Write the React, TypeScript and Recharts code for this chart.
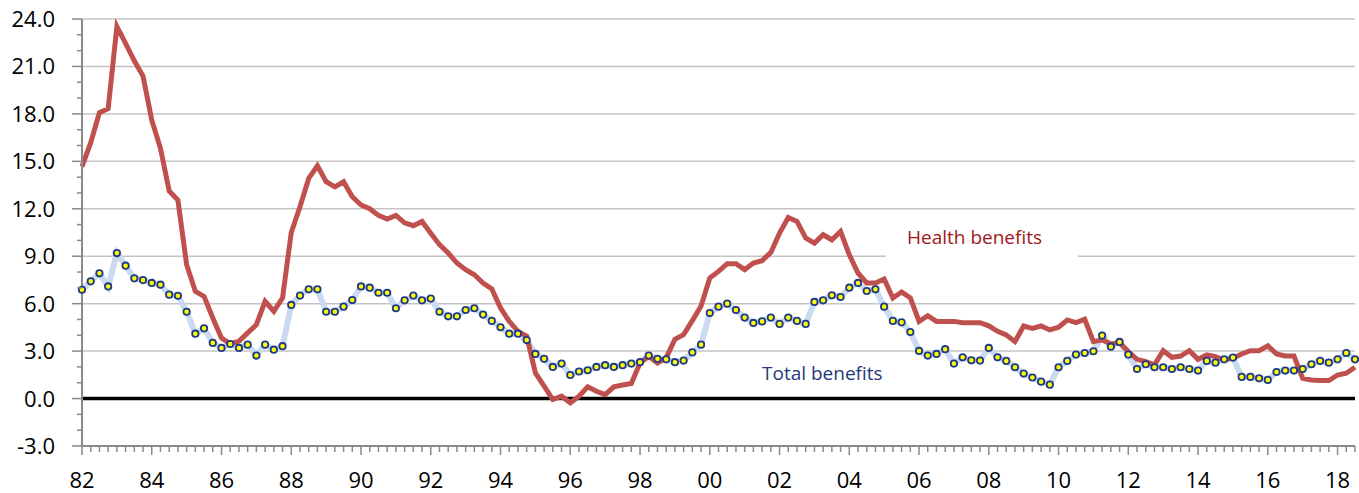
import { LineChart, Line, XAxis, YAxis, CartesianGrid, ReferenceLine } from 'recharts'

// quarterly, 1982 Q1 .. 2018 Q3
const startYear = 1982

const totalBenefits = [
  6.88, 7.41, 7.92, 7.09, 9.2, 8.4, 7.6, 7.49, 7.31, 7.2,
  6.57, 6.5, 5.49, 4.1, 4.44, 3.52, 3.2, 3.45, 3.2, 3.41,
  2.72, 3.41, 3.09, 3.31, 5.92, 6.51, 6.91, 6.91, 5.49, 5.49,
  5.81, 6.23, 7.09, 7.01, 6.69, 6.69, 5.71, 6.21, 6.51, 6.21,
  6.32, 5.49, 5.2, 5.2, 5.6, 5.71, 5.31, 4.91, 4.51, 4.1,
  4.1, 3.7, 2.82, 2.51, 2.0, 2.21, 1.49, 1.71, 1.79, 2.0,
  2.11, 2.0, 2.11, 2.21, 2.3, 2.72, 2.51, 2.48, 2.3, 2.4,
  2.92, 3.41, 5.41, 5.81, 6.0, 5.6, 5.12, 4.78, 4.88, 5.12,
  4.72, 5.12, 4.91, 4.72, 6.11, 6.21, 6.53, 6.42, 7.01, 7.31,
  6.8, 6.91, 5.81, 4.91, 4.82, 4.21, 3.01, 2.72, 2.82, 3.12,
  2.21, 2.61, 2.42, 2.4, 3.2, 2.61, 2.38, 1.98, 1.58, 1.33,
  1.07, 0.88, 1.98, 2.38, 2.78, 2.88, 2.99, 3.98, 3.28, 3.58,
  2.78, 1.87, 2.17, 1.98, 1.98, 1.87, 1.98, 1.87, 1.77, 2.38,
  2.27, 2.48, 2.59, 1.37, 1.37, 1.28, 1.18, 1.68, 1.77, 1.77,
  1.87, 2.17, 2.38, 2.27, 2.48, 2.88, 2.48,
]

const healthBenefits = [
  14.66, 16.18, 18.08, 18.33, 23.52, 22.46, 21.36, 20.39, 17.61, 15.82,
  13.12, 12.55, 8.46, 6.78, 6.46, 5.09, 3.83, 3.47, 3.62, 4.15,
  4.67, 6.15, 5.52, 6.36, 10.5, 12.13, 13.92, 14.72, 13.71, 13.39,
  13.71, 12.76, 12.24, 12.0, 11.58, 11.35, 11.58, 11.11, 10.93, 11.2,
  10.46, 9.73, 9.2, 8.57, 8.15, 7.83, 7.31, 6.93, 5.73, 4.88,
  4.25, 3.94, 1.62, 0.78, -0.06, 0.15, -0.27, 0.15, 0.74, 0.46,
  0.25, 0.74, 0.86, 0.95, 2.25, 2.67, 2.25, 2.57, 3.75, 4.04,
  4.93, 5.85, 7.62, 8.04, 8.53, 8.53, 8.15, 8.57, 8.72, 9.24,
  10.46, 11.45, 11.2, 10.15, 9.83, 10.36, 10.04, 10.57, 9.09, 7.94,
  7.31, 7.31, 7.56, 6.36, 6.74, 6.36, 4.88, 5.24, 4.88, 4.88,
  4.88, 4.8, 4.8, 4.8, 4.6, 4.25, 4.02, 3.6, 4.59, 4.44,
  4.59, 4.34, 4.51, 4.97, 4.8, 5.01, 3.6, 3.71, 3.45, 3.54,
  2.97, 2.48, 2.34, 2.13, 3.03, 2.61, 2.69, 3.03, 2.48, 2.76,
  2.65, 2.44, 2.55, 2.82, 3.03, 3.03, 3.33, 2.82, 2.69, 2.69,
  1.28, 1.18, 1.14, 1.14, 1.49, 1.6, 1.98,
]

const yearLabels = [
  '82', '84', '86', '88', '90', '92', '94', '96', '98', '00',
  '02', '04', '06', '08', '10', '12', '14', '16', '18',
]

const yTicks = [
  -3, -2, -1, 0, 1, 2, 3, 4, 5, 6, 7, 8, 9, 10, 11, 12, 13,
  14, 15, 16, 17, 18, 19, 20, 21, 22, 23, 24,
]
const gridValues = [3, 6, 9, 12, 15, 18, 21, 24]

const data = totalBenefits.map((v, i) => ({
  t: startYear + i / 4,
  total: v,
  health: healthBenefits[i],
}))
const quarterTicks = data.map((d) => d.t)

const axisColor = '#8a8a8a'
const font = '"Open Sans", "Noto Sans", sans-serif'

function XTick(props: any) {
  const { x, y, payload } = props
  const q = Math.round((payload.value - startYear) * 4)
  const major = q % 8 === 0
  return (
    <g>
      <line x1={x} x2={x} y1={y} y2={y + (major ? 9 : 6)} stroke={axisColor} strokeWidth={1.5} />
      {major && (
        <text x={x} y={y + 42} textAnchor="middle" fontFamily={font} fontSize={22} fill="#000">
          {yearLabels[q / 8]}
        </text>
      )}
    </g>
  )
}

function YTick(props: any) {
  const { x, y, payload } = props
  const v = payload.value as number
  const major = v % 3 === 0
  return (
    <g>
      <line x1={x - (major ? 10 : 5)} x2={x} y1={y} y2={y} stroke={axisColor} strokeWidth={1.5} />
      {major && (
        <text x={x - 27} y={y + 8} textAnchor="end" fontFamily={font} fontSize={22} fill="#000">
          {v.toFixed(1)}
        </text>
      )}
    </g>
  )
}

export default function App() {
  return (
    <div style={{ position: 'absolute', left: 0, top: 0, width: 1359, height: 493 }}>
      <LineChart width={1359} height={493} data={data} margin={{ top: 19, right: 4, bottom: 0, left: 0 }}>
        <CartesianGrid vertical={false} horizontalValues={gridValues} stroke="#c4c4c4" strokeWidth={1.5} />
        <XAxis
          dataKey="t"
          type="number"
          domain={[1982, 2018.5]}
          ticks={quarterTicks}
          interval={0}
          height={47}
          tickSize={0}
          tickMargin={0}
          tickLine={false}
          axisLine={{ stroke: axisColor, strokeWidth: 2 }}
          tick={XTick}
        />
        <YAxis
          type="number"
          domain={[-3, 24]}
          ticks={yTicks}
          interval={0}
          width={82}
          tickSize={0}
          tickMargin={0}
          tickLine={false}
          axisLine={{ stroke: axisColor, strokeWidth: 2 }}
          tick={YTick}
        />
        <ReferenceLine y={0} stroke="#000" strokeWidth={3.5} />
        <Line
          dataKey="total"
          type="linear"
          stroke="#c9daf1"
          strokeWidth={6}
          dot={{ r: 3.2, fill: '#ffff00', stroke: '#1f3a8a', strokeWidth: 1.8 }}
          isAnimationActive={false}
        />
        <Line
          dataKey="health"
          type="linear"
          stroke="#c0504d"
          strokeWidth={5}
          dot={false}
          isAnimationActive={false}
        />
      </LineChart>
      <svg
        width={1359}
        height={493}
        style={{ position: 'absolute', left: 0, top: 0, pointerEvents: 'none' }}
      >
        <rect x={886} y={218} width={192} height={40} fill="#fff" />
        <text x={907} y={244} fontFamily={font} fontSize={19} fill="#a01818">
          Health benefits
        </text>
        <text x={762} y={380} fontFamily={font} fontSize={19} fill="#1f3878">
          Total benefits
        </text>
      </svg>
    </div>
  )
}
